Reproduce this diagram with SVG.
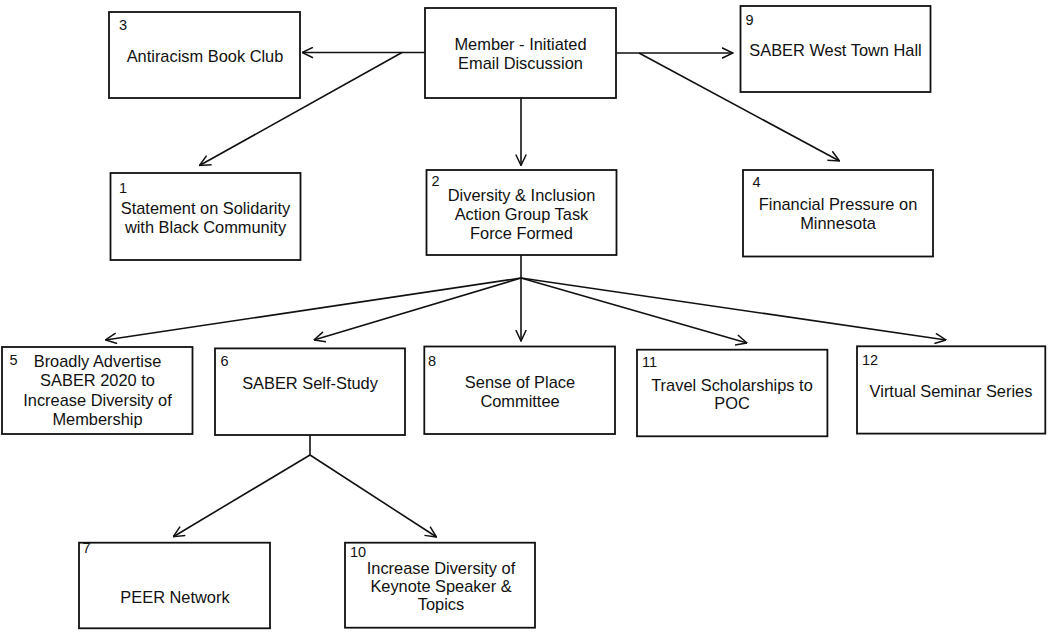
<svg xmlns="http://www.w3.org/2000/svg" width="1052" height="633" viewBox="0 0 1052 633">
<style>
.box{fill:#fff;stroke:#111;stroke-width:1.8}
.t{font-family:"Liberation Sans",Arial,sans-serif;font-size:16.4px;fill:#111;text-anchor:middle}
.n{font-family:"Liberation Sans",Arial,sans-serif;font-size:14.5px;fill:#111}
.c{stroke:#111;stroke-width:1.6;fill:none}
</style>
<defs>
<marker id="ah" viewBox="0 0 12 12" refX="11.5" refY="6" markerWidth="12" markerHeight="12" markerUnits="userSpaceOnUse" orient="auto">
<path d="M0.5,0.8 L11.5,6 L0.5,11.2" fill="none" stroke="#111" stroke-width="1.5"/>
</marker>
</defs>
<rect width="1052" height="633" fill="#fff"/>
<g id="connectors">
<line class="c" x1="425" y1="52.5" x2="302" y2="52.5" marker-end="url(#ah)"/>
<line class="c" x1="402" y1="52.5" x2="199.5" y2="165.5" marker-end="url(#ah)"/>
<line class="c" x1="521" y1="98" x2="521" y2="165.5" marker-end="url(#ah)"/>
<line class="c" x1="616" y1="53" x2="733" y2="53" marker-end="url(#ah)"/>
<line class="c" x1="639" y1="53" x2="839.5" y2="161" marker-end="url(#ah)"/>
<line class="c" x1="521" y1="255" x2="521" y2="341" marker-end="url(#ah)"/>
<line class="c" x1="521" y1="278" x2="105.5" y2="340" marker-end="url(#ah)"/>
<line class="c" x1="521" y1="278" x2="314" y2="340" marker-end="url(#ah)"/>
<line class="c" x1="521" y1="278" x2="747" y2="343" marker-end="url(#ah)"/>
<line class="c" x1="521" y1="278" x2="946" y2="340" marker-end="url(#ah)"/>
<line class="c" x1="310" y1="435" x2="310" y2="455"/>
<line class="c" x1="310" y1="455" x2="173.3" y2="536.7" marker-end="url(#ah)"/>
<line class="c" x1="310" y1="455" x2="436.5" y2="537" marker-end="url(#ah)"/>
</g>
<g id="node-member">
<rect class="box" x="425" y="8" width="191" height="90"/>
<text class="t" x="520.5" y="50">Member - Initiated</text>
<text class="t" x="520.5" y="69">Email Discussion</text>
</g>
<g id="node-3">
<rect class="box" x="109" y="12" width="191" height="86"/>
<text class="n" x="119" y="30">3</text>
<text class="t" x="205" y="62">Antiracism Book Club</text>
</g>
<g id="node-9">
<rect class="box" x="740.5" y="6" width="190" height="86"/>
<text class="n" x="745.5" y="25">9</text>
<text class="t" x="835.5" y="56">SABER West Town Hall</text>
</g>
<g id="node-1">
<rect class="box" x="110.5" y="173" width="190" height="87"/>
<text class="n" x="119" y="193">1</text>
<text class="t" x="205.5" y="214">Statement on Solidarity</text>
<text class="t" x="205.5" y="233">with Black Community</text>
</g>
<g id="node-2">
<rect class="box" x="426.5" y="170" width="190" height="85"/>
<text class="n" x="431.5" y="186">2</text>
<text class="t" x="521.5" y="200.5">Diversity &amp; Inclusion</text>
<text class="t" x="521.5" y="219.5">Action Group Task</text>
<text class="t" x="521.5" y="238.5">Force Formed</text>
</g>
<g id="node-4">
<rect class="box" x="743" y="170" width="190" height="86.5"/>
<text class="n" x="752.5" y="187">4</text>
<text class="t" x="838" y="209.5">Financial Pressure on</text>
<text class="t" x="838" y="229">Minnesota</text>
</g>
<g id="node-5">
<rect class="box" x="2" y="347" width="190.5" height="87"/>
<text class="n" x="9.5" y="365">5</text>
<text class="t" x="97.5" y="367">Broadly Advertise</text>
<text class="t" x="97.5" y="386">SABER 2020 to</text>
<text class="t" x="97.5" y="405.5">Increase Diversity of</text>
<text class="t" x="97.5" y="424.5">Membership</text>
</g>
<g id="node-6">
<rect class="box" x="215" y="348.4" width="190" height="86.6"/>
<text class="n" x="220.5" y="366">6</text>
<text class="t" x="310" y="389">SABER Self-Study</text>
</g>
<g id="node-8">
<rect class="box" x="424.3" y="346.5" width="190.7" height="87.5"/>
<text class="n" x="428" y="366">8</text>
<text class="t" x="520" y="388">Sense of Place</text>
<text class="t" x="520" y="407">Committee</text>
</g>
<g id="node-11">
<rect class="box" x="637" y="349.7" width="190.4" height="86.6"/>
<text class="n" x="642" y="367">11</text>
<text class="t" x="732" y="390.5">Travel Scholarships to</text>
<text class="t" x="732" y="409">POC</text>
</g>
<g id="node-12">
<rect class="box" x="857" y="346.3" width="188.3" height="87.3"/>
<text class="n" x="862" y="365">12</text>
<text class="t" x="951" y="396.5">Virtual Seminar Series</text>
</g>
<g id="node-7">
<rect class="box" x="79" y="542.7" width="191" height="85.6"/>
<text class="n" x="82.5" y="552.5">7</text>
<text class="t" x="175" y="602.5">PEER Network</text>
</g>
<g id="node-10">
<rect class="box" x="345" y="542.7" width="190" height="85"/>
<text class="n" x="350" y="557">10</text>
<text class="t" x="441" y="574">Increase Diversity of</text>
<text class="t" x="441" y="592">Keynote Speaker &amp;</text>
<text class="t" x="441" y="610">Topics</text>
</g>
</svg>
